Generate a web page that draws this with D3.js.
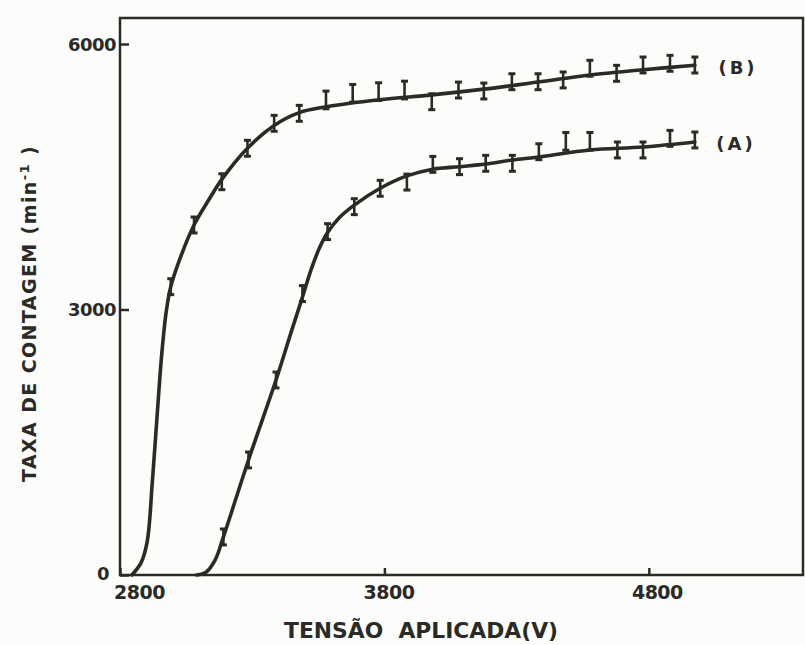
<!DOCTYPE html>
<html>
<head>
<meta charset="utf-8">
<script src="https://cdn.jsdelivr.net/npm/d3@7"></script>
<style>
  body { margin: 0; background: #fcfcfa; }
  svg text { font-family: "DejaVu Sans", sans-serif; font-weight: bold; fill: #2a2a26; }
</style>
</head>
<body>
<svg id="chart"></svg>
<script>
const width = 805, height = 645;
const ink = "#2a2a26";

// fitted curves (voltage, counts/min)
const curveB = [[2845, 0], [2880, 140], [2903, 380], [2922, 1040], [2940, 1785], [2958, 2500],
    [2975, 2980], [2992, 3258], [3030, 3600], [3080, 3955], [3140, 4260], [3185, 4470], [3282, 4822],
    [3383, 5080], [3478, 5225], [3579, 5290], [3780, 5370], [3979, 5425], [4176, 5490],
    [4381, 5570], [4577, 5650], [4778, 5710], [4974, 5760]];
const curveA = [[3090, 0], [3125, 30], [3160, 170], [3191, 430], [3286, 1300], [3390, 2204],
    [3450, 2770], [3490, 3140], [3525, 3470], [3555, 3700], [3585, 3870], [3630, 4040],
    [3686, 4180], [3784, 4370], [3885, 4510], [3983, 4585], [4084, 4614], [4183, 4644],
    [4284, 4690], [4384, 4723], [4577, 4803], [4778, 4836], [4974, 4893]];

// measured points with error bars
const voltB = [2992, 3080, 3185, 3282, 3383, 3478, 3579, 3680, 3778, 3876, 3979, 4080, 4176,
    4282, 4381, 4476, 4577, 4678, 4778, 4880, 4974];
const countB = [3258, 3955, 4444, 4822, 5104, 5217, 5368, 5443, 5462, 5480, 5348, 5480, 5469,
    5574, 5574, 5594, 5726, 5669, 5763, 5782, 5763];
const errB = [90, 90, 90, 90, 90, 90, 100, 100, 100, 100, 90, 90, 90, 90, 90, 90, 90, 90, 90, 90, 90];

const voltA = [3191, 3286, 3390, 3490, 3585, 3686, 3784, 3885, 3983, 4084, 4183, 4284, 4384,
    4486, 4577, 4681, 4778, 4880, 4974];
const countA = [430, 1300, 2204, 3180, 3880, 4162, 4370, 4440, 4640, 4614, 4652, 4652, 4783,
    4900, 4900, 4803, 4803, 4934, 4916];
const errA = [90, 90, 90, 90, 90, 90, 90, 90, 90, 90, 90, 90, 90, 100, 100, 90, 90, 90, 90];

const xTicks = [2800, 3800, 4800];
const yTicks = [0, 3000, 6000];

const svg = d3.select("#chart").attr("width", width).attr("height", height);

const x = d3.scaleLinear().domain([2800, 5383]).range([120, 803]);
const y = d3.scaleLinear().domain([0, 6294]).range([575, 18]);

// frame
svg.append("rect")
    .attr("x", x(2800)).attr("y", y(6294))
    .attr("width", x(5383) - x(2800)).attr("height", y(0) - y(6294))
    .attr("fill", "none").attr("stroke", ink).attr("stroke-width", 2.5);

// axes (ticks pointing inward)
const yAxis = svg.append("g")
    .attr("transform", `translate(${x(2800)},0)`)
    .call(d3.axisLeft(y).tickValues(yTicks).tickFormat(d3.format("d"))
        .tickSizeInner(-9).tickSizeOuter(0).tickPadding(4));
yAxis.select(".domain").remove();
yAxis.selectAll("line").attr("stroke", ink).attr("stroke-width", 2.5);
yAxis.selectAll("text").style("font-size", "18px").style("letter-spacing", "-0.5px").attr("dy", "0.36em");
yAxis.selectAll("text").filter(d => d === 0).attr("dx", -7).attr("dy", "0.25em");

const xAxis = svg.append("g")
    .attr("transform", `translate(0,${y(0)})`)
    .call(d3.axisBottom(x).tickValues(xTicks).tickFormat(d3.format("d"))
        .tickSizeInner(-7).tickSizeOuter(0).tickPadding(11));
xAxis.select(".domain").remove();
xAxis.selectAll("line").attr("stroke", ink).attr("stroke-width", 2.5);
xAxis.selectAll("text").style("font-size", "19px").style("letter-spacing", "-0.5px")
    .attr("dx", d => d === 2800 ? 19 : (d === 3800 ? 4 : 8));

// curves
const line = d3.line().x(d => x(d[0])).y(d => y(d[1])).curve(d3.curveCatmullRom.alpha(0.5));

[curveB, curveA].forEach(c => {
    svg.append("path")
        .attr("d", line(c))
        .attr("fill", "none")
        .attr("stroke", ink)
        .attr("stroke-width", 3.6)
        .attr("stroke-linejoin", "round")
        .attr("stroke-linecap", "round");
});

// error bars
function drawBars(volts, counts, errs) {
    const g = svg.append("g").attr("stroke", ink).attr("fill", ink);
    volts.forEach((v, i) => {
        const cx = x(v), top = y(counts[i] + errs[i]), bot = y(counts[i] - errs[i]);
        g.append("line").attr("x1", cx).attr("x2", cx).attr("y1", top).attr("y2", bot)
            .attr("stroke-width", 2.6);
        [top, bot].forEach(yy => {
            g.append("line").attr("x1", cx - 3.5).attr("x2", cx + 3.5).attr("y1", yy).attr("y2", yy)
                .attr("stroke-width", 3);
        });
    });
}
drawBars(voltB, countB, errB);
drawBars(voltA, countA, errA);

// curve labels
svg.append("text").attr("x", 738).attr("y", y(5760) + 2).attr("text-anchor", "middle")
    .attr("dy", "0.35em").style("font-size", "18px").style("letter-spacing", "3px").text("(B)");
svg.append("text").attr("x", 736).attr("y", y(4893) + 2).attr("text-anchor", "middle")
    .attr("dy", "0.35em").style("font-size", "18px").style("letter-spacing", "3px").text("(A)");

// axis titles
svg.append("text")
    .attr("x", 284).attr("y", 638)
    .attr("textLength", 274).attr("lengthAdjust", "spacingAndGlyphs")
    .style("font-size", "21px")
    .text("TENSÃO\u00a0\u00a0APLICADA(V)");

const yt = svg.append("text")
    .attr("transform", "translate(36,482) rotate(-90)")
    .style("font-size", "19px")
    .style("letter-spacing", "1.4px");
yt.append("tspan").text("TAXA DE CONTAGEM (min");
yt.append("tspan").attr("dy", -7).style("font-size", "13px").text("-1");
yt.append("tspan").attr("dy", 7).text("\u00a0)");
</script>
</body>
</html>
